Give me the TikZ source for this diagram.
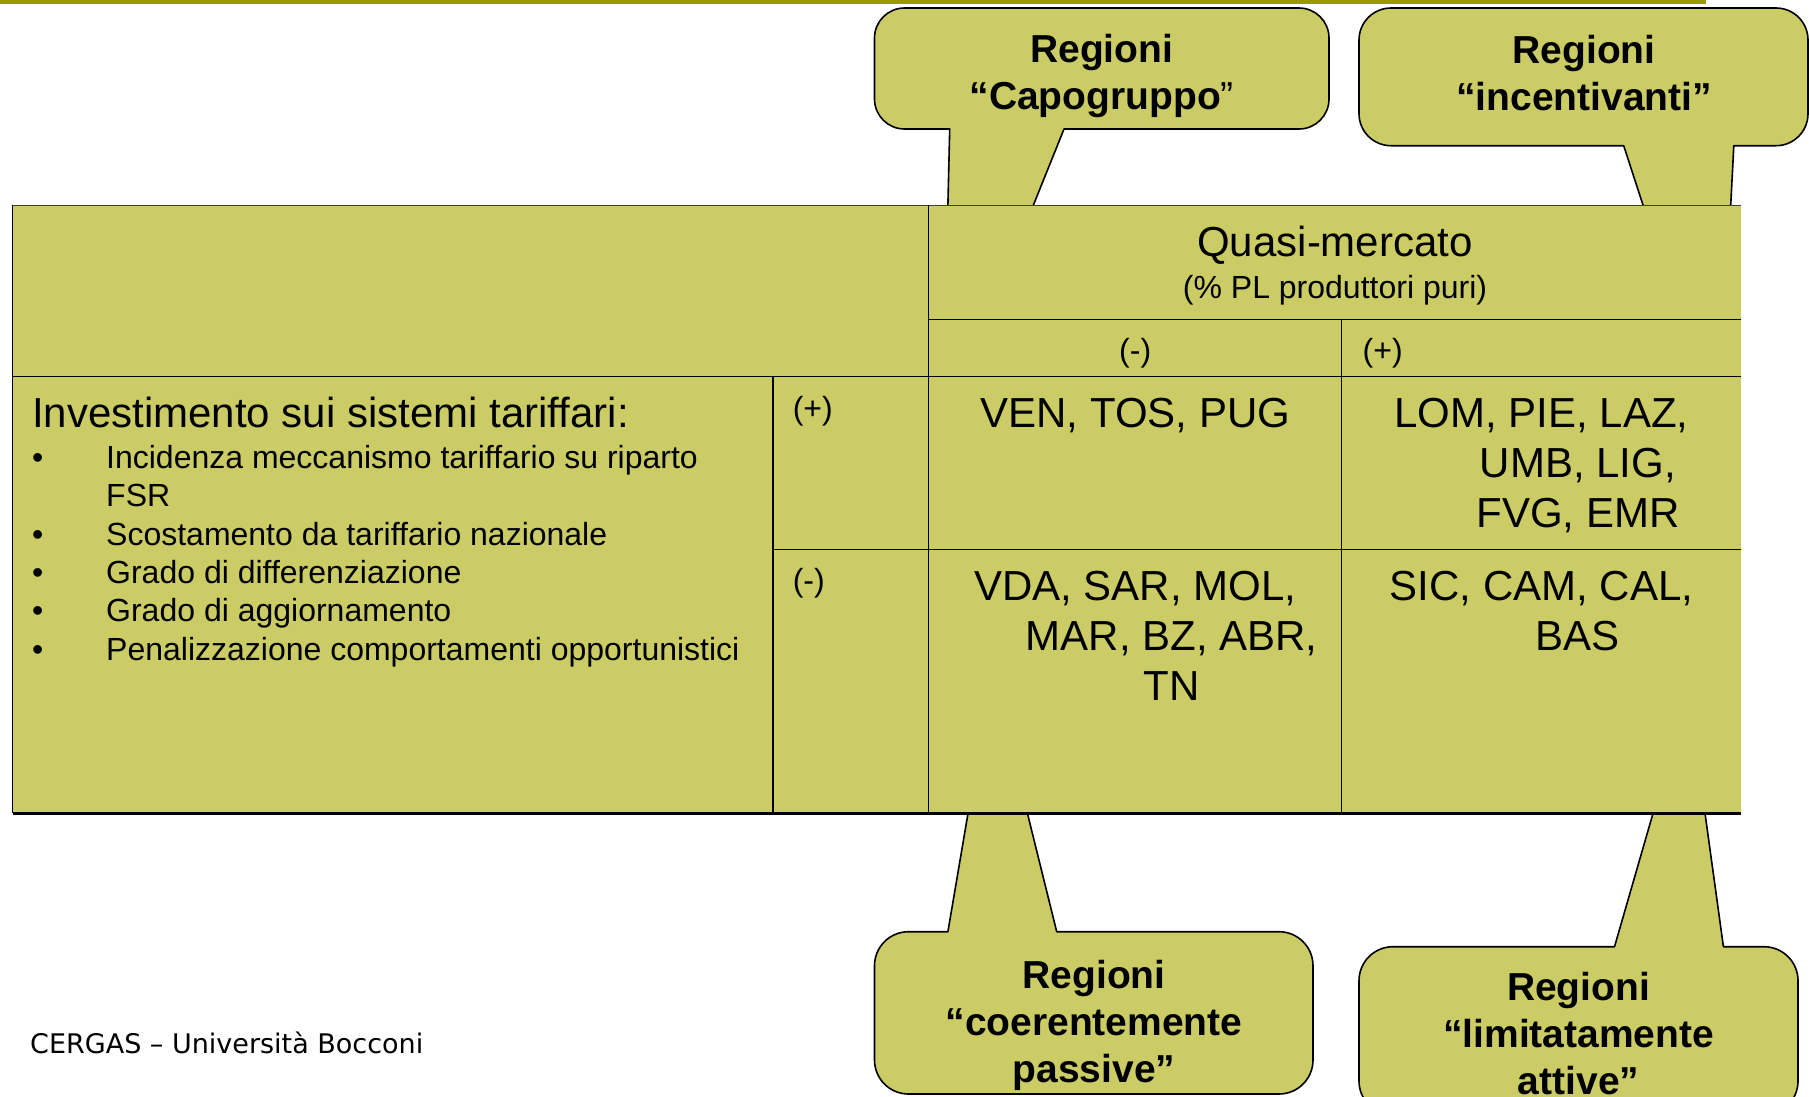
\documentclass[tikz,border=0pt]{standalone}
\usepackage{fontspec}
\setmainfont{Liberation Sans}
\newfontfamily\footfont{DejaVu Sans}
\definecolor{olivefill}{RGB}{204,204,102}
\definecolor{topline}{RGB}{153,153,0}
\newcommand\contshift{\hspace*{73pt}}
\newcommand\ctab[1]{\begin{tabular}[t]{@{}c@{}}#1\end{tabular}}
\newcommand\ltab[1]{\begin{tabular}[t]{@{}l@{}}#1\end{tabular}}
\begin{document}
\begin{tikzpicture}[x=1pt,y=-1pt,
  callout/.style={draw=black, line width=1.6pt, fill=olivefill, line join=round},
  ctext/.style={inner sep=0pt, anchor=base, font=\bfseries\fontsize{39}{47}\selectfont},
  cell/.style={inner sep=0pt, anchor=base, font=\fontsize{42}{50}\selectfont},
  small/.style={inner sep=0pt, anchor=base, font=\fontsize{32}{38.4}\selectfont},
  grid/.style={draw=black, line width=1.1pt}]
\useasboundingbox (0,0) rectangle (1809,1096);
\clip (0,0) rectangle (1809,1096);

% top rule
\draw[topline, line width=4pt] (0,2) -- (1706,2);

% callouts (drawn first, the table covers their tails)
\path[callout] (1100,8) [rounded corners=30pt] -- (1329,8) -- (1329,129)
  [sharp corners] -- (1064,129) -- (942.5,431) -- (949.7,129)
  [rounded corners=30pt] -- (874.5,129) -- (874.5,8) -- cycle;
\path[callout] (1580,8) [rounded corners=32pt] -- (1808,8) -- (1808,145.7)
  [sharp corners] -- (1733.8,145.7) -- (1718.6,437.7) -- (1623.7,145.7)
  [rounded corners=32pt] -- (1359,145.7) -- (1359,8) -- cycle;
\path[callout] (1094,1094) [rounded corners=34pt] -- (874.5,1094) -- (874.5,931.7)
  [sharp corners] -- (947.9,931.7) -- (992.2,671) -- (1056.7,931.7)
  [rounded corners=34pt] -- (1313,931.7) -- (1313,1094) -- cycle;
\path[callout] (1578,1115) [rounded corners=34pt] -- (1359,1115) -- (1359,946.7)
  [sharp corners] -- (1614.5,946.7) -- (1688.2,691.4) -- (1723.4,946.7)
  [rounded corners=34pt] -- (1798,946.7) -- (1798,1115) -- cycle;

% table
\coordinate (tl) at (12.7,205.4);
\coordinate (br) at (1741,813.4);
\fill[olivefill] (tl) rectangle (br);
\draw[draw=black!75, line width=1.3pt] (12.7,205.4) -- (1741,205.4);
\draw[grid] (12.7,205.4) -- (12.7,813.4);
\draw[grid] (928.7,205.4) -- (928.7,813.4);
\draw[grid] (928.7,319.6) -- (1741,319.6);
\draw[grid] (12.7,376.1) -- (1741,376.1);
\draw[grid] (773,549.2) -- (1741,549.2);
\draw[grid] (773,376.1) -- (773,813.4);
\draw[grid] (1341.8,319.6) -- (1341.8,813.4);
\draw[black, line width=3pt] (12.7,813.4) -- (1741,813.4);

% header
\node[cell] (qm) at (1335,256.7) {Quasi-mercato};
\node[small] (pl) at (1335,298.3) {(\% PL produttori puri)};
\node[small] (hminus) at (1135.2,361.7) {(-)};
\node[small, anchor=base west] (hplus) at (1362.5,361.7) {(+)};

% row labels
\node[cell, anchor=base west] (inv) at (32,427.7) {Investimento sui sistemi tariffari:};
\node[small, anchor=base west] (list) at (32,468.3)
 {\ltab{\makebox[74pt][l]{•}Incidenza meccanismo tariffario su riparto\\
  \hspace*{74pt}FSR\\
  \makebox[74pt][l]{•}Scostamento da tariffario nazionale\\
  \makebox[74pt][l]{•}Grado di differenziazione\\
  \makebox[74pt][l]{•}Grado di aggiornamento\\
  \makebox[74pt][l]{•}Penalizzazione comportamenti opportunistici}};
\node[small, anchor=base west] (rplus) at (792.6,419) {(+)};
\node[small, anchor=base west] (rminus) at (792.6,591.5) {(-)};

% data cells
\node[cell] (d11) at (1135.2,427.5) {VEN, TOS, PUG};
\node[cell] (d12) at (1541.4,427.5) {\ctab{LOM, PIE, LAZ,\\\contshift UMB, LIG,\\\contshift FVG, EMR}};
\node[cell] (d21) at (1135.2,600.6) {\ctab{VDA, SAR, MOL,\\\contshift MAR, BZ, ABR,\\\contshift TN}};
\node[cell] (d22) at (1541.4,600.6) {\ctab{SIC, CAM, CAL,\\\contshift BAS}};

% callout texts
\node[ctext] (cap) at (1101.7,62.7) {\ctab{Regioni\\“Capogruppo{\mdseries ”}}};
\node[ctext] (inc) at (1584,63) {\ctab{Regioni\\“incentivanti”}};
\node[ctext] (coe) at (1094,988.3) {\ctab{Regioni\\“coerentemente\\passive”}};
\node[ctext] (lim) at (1578.6,1000) {\ctab{Regioni\\“limitatamente\\attive”}};

% footer
\node[inner sep=0pt, anchor=base west, font=\footfont\fontsize{27}{32}\selectfont] (foot) at (30,1053.3) {CERGAS – Università Bocconi};
\end{tikzpicture}
\end{document}
